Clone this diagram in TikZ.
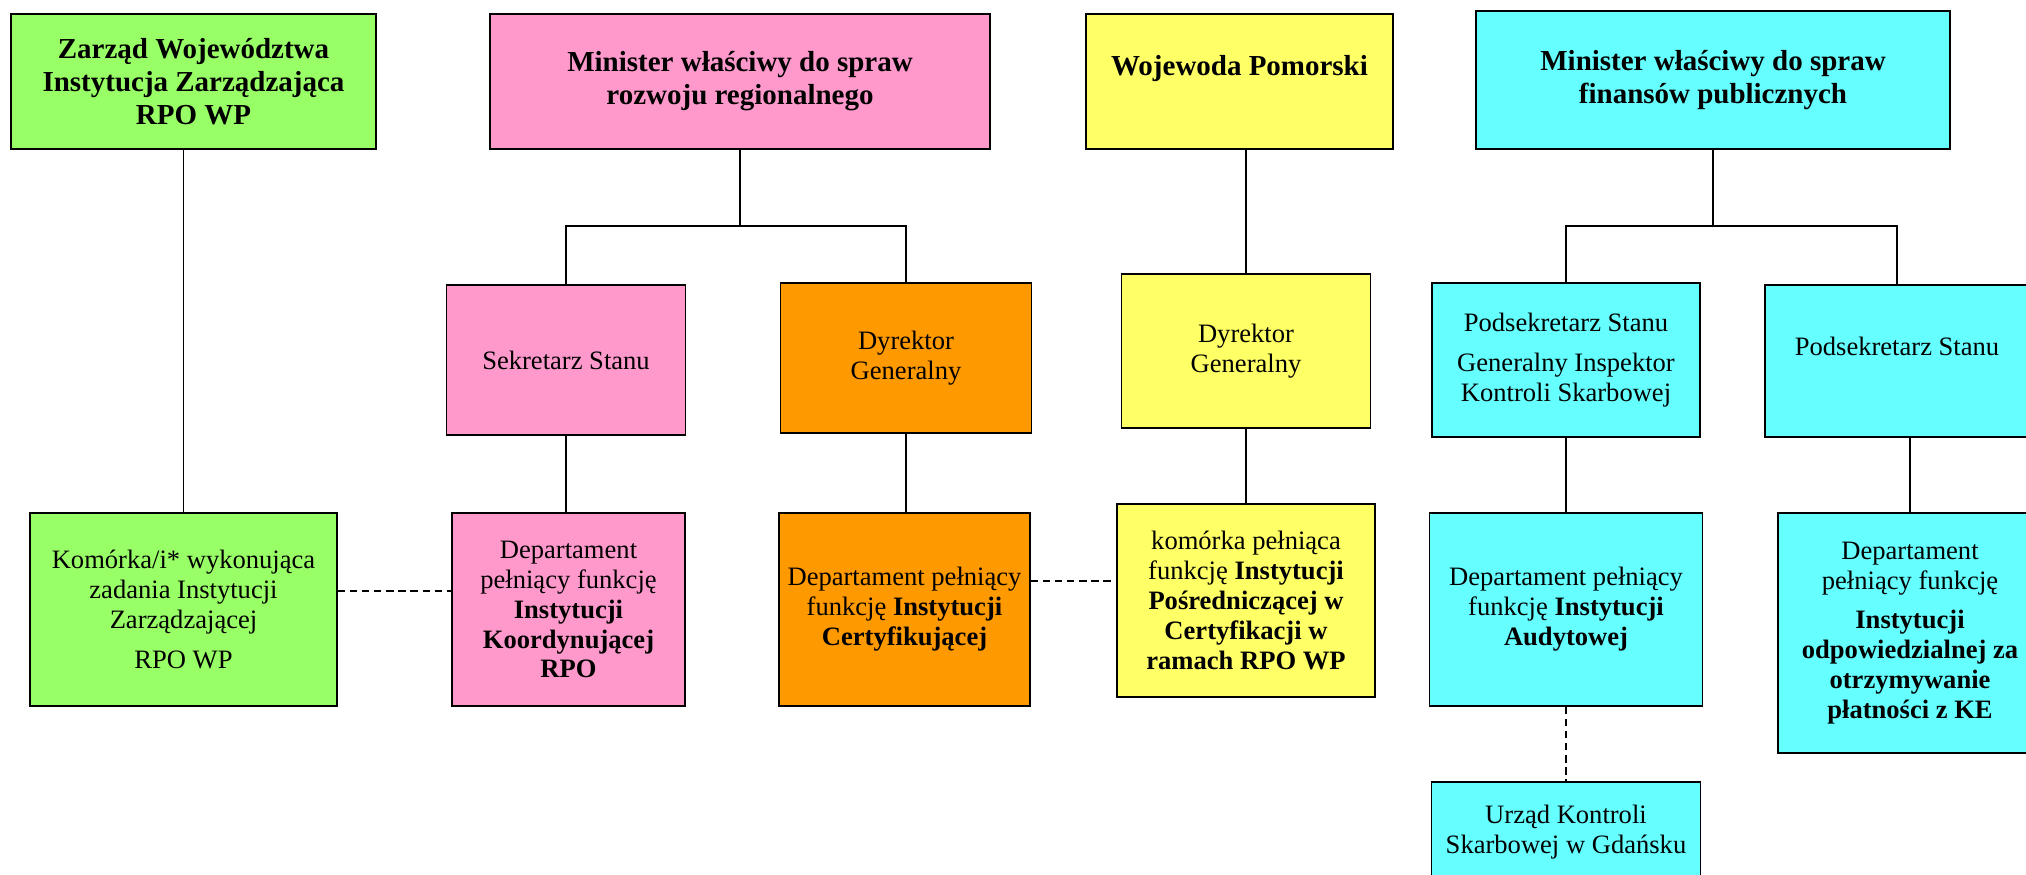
\documentclass[tikz,border=0pt]{standalone}
\usepackage{fontspec}
\setmainfont{Liberation Serif}
\usepackage{xcolor}
\usepackage{tikz}

\definecolor{zielony}{HTML}{99FF66}
\definecolor{rozowy}{HTML}{FF99CC}
\definecolor{zolty}{HTML}{FFFF66}
\definecolor{pomarancz}{HTML}{FF9900}
\definecolor{turkus}{HTML}{66FFFF}

\begin{document}
\begin{tikzpicture}[x=0.414pt,y=-0.414pt,
							every node/.style={rectangle,draw,line width=0.8pt,align=center,inner sep=2pt,
								font=\fontsize{11}{12.4}\selectfont},
							glowny/.style={font=\fontsize{12}{13.7}\selectfont\bfseries},
							sz/.style 2 args={minimum width=#1*0.414pt,minimum height=#2*0.414pt},
							polaczenie/.style={line width=0.6pt},
							przerywana/.style={line width=0.6pt,dash pattern=on 3pt off 2pt}]
			\useasboundingbox (0,0) rectangle (2026,874);
			\clip (0,0) rectangle (2026,874);
			% gora
			\node[glowny,fill=zielony,sz={365}{135}] (zarzad) at (193.5,81.5)
				{Zarząd Województwa\\Instytucja Zarządzająca\\RPO WP};
			\node[glowny,fill=rozowy,sz={500}{135}] (minrr) at (740,81.5)
				{Minister właściwy do spraw\\rozwoju regionalnego};
			\node[glowny,fill=zolty,sz={307}{135}] (wojewoda) at (1239.5,81.5)
				{Wojewoda Pomorski\\ ~};
			\node[glowny,fill=turkus,sz={474}{138}] (minfin) at (1713,80)
				{Minister właściwy do spraw\\finansów publicznych};
			% srodek
			\node[fill=rozowy,sz={239}{150}] (sekretarz) at (566,360) {Sekretarz Stanu};
			\node[fill=pomarancz,sz={251}{150}] (dyrgen1) at (906,358) {Dyrektor\\Generalny};
			\node[fill=zolty,sz={249}{154}] (dyrgen2) at (1246,351) {Dyrektor\\Generalny};
			\node[fill=turkus,sz={268}{154}] (podsekr1) at (1566,360)
				{Podsekretarz Stanu\\[4pt]Generalny Inspektor\\Kontroli Skarbowej};
			\node[fill=turkus,sz={264}{152}] (podsekr2) at (1897,361) {Podsekretarz Stanu\\ ~};
			% dol
			\node[fill=zielony,sz={307}{193}] (komorka) at (183.5,609.5)
				{Komórka/i* wykonująca\\zadania Instytucji\\Zarządzającej\\[4pt]RPO WP};
			\node[fill=rozowy,sz={233}{193}] (deptkoord) at (568.5,609.5)
				{Departament\\pełniący funkcję\\\textbf{Instytucji}\\\textbf{Koordynującej}\\\textbf{RPO}};
			\node[fill=pomarancz,sz={251}{193}] (deptcert) at (904.5,609.5)
				{Departament pełniący\\funkcję \textbf{Instytucji}\\\textbf{Certyfikującej}};
			\node[fill=zolty,sz={258}{193}] (komcert) at (1246,600.5)
				{komórka pełniąca\\funkcję \textbf{Instytucji}\\\textbf{Pośredniczącej w}\\\textbf{Certyfikacji w}\\\textbf{ramach RPO WP}};
			\node[fill=turkus,sz={273}{193}] (deptaudyt) at (1566,609.5)
				{Departament pełniący\\funkcję \textbf{Instytucji}\\\textbf{Audytowej}};
			\node[fill=turkus,sz={264}{240}] (deptke) at (1910,633)
				{Departament\\pełniący funkcję\\[4pt]\textbf{Instytucji}\\\textbf{odpowiedzialnej za}\\\textbf{otrzymywanie}\\\textbf{płatności z KE}};
			\node[fill=turkus,sz={269}{100}] (urzad) at (1566,832)
				{Urząd Kontroli\\Skarbowej w Gdańsku};
			% linie
			\draw[polaczenie] (zarzad.south -| komorka.north) -- (komorka.north);
			\draw[polaczenie] (minrr.south) -- (minrr.south |- 0,226);
			\draw[polaczenie] (sekretarz.north) -- (sekretarz.north |- 0,226) -| (dyrgen1.north);
			\draw[polaczenie] (sekretarz.south) -- (sekretarz.south |- deptkoord.north);
			\draw[polaczenie] (dyrgen1.south) -- (dyrgen1.south |- deptcert.north);
			\draw[polaczenie] (wojewoda.south -| dyrgen2.north) -- (dyrgen2.north);
			\draw[polaczenie] (dyrgen2.south) -- (dyrgen2.south |- komcert.north);
			\draw[polaczenie] (minfin.south) -- (minfin.south |- 0,226);
			\draw[polaczenie] (podsekr1.north) -- (podsekr1.north |- 0,226) -| (podsekr2.north);
			\draw[polaczenie] (podsekr1.south) -- (podsekr1.south |- deptaudyt.north);
			\draw[polaczenie] (deptke.north |- podsekr2.south) -- (deptke.north);
			\draw[przerywana] (komorka.east |- 0,591) -- (deptkoord.west |- 0,591);
			\draw[przerywana] (deptcert.east |- 0,581) -- (komcert.west |- 0,581);
			\draw[przerywana] (deptaudyt.south) -- (deptaudyt.south |- urzad.north);
		\end{tikzpicture}
\end{document}
